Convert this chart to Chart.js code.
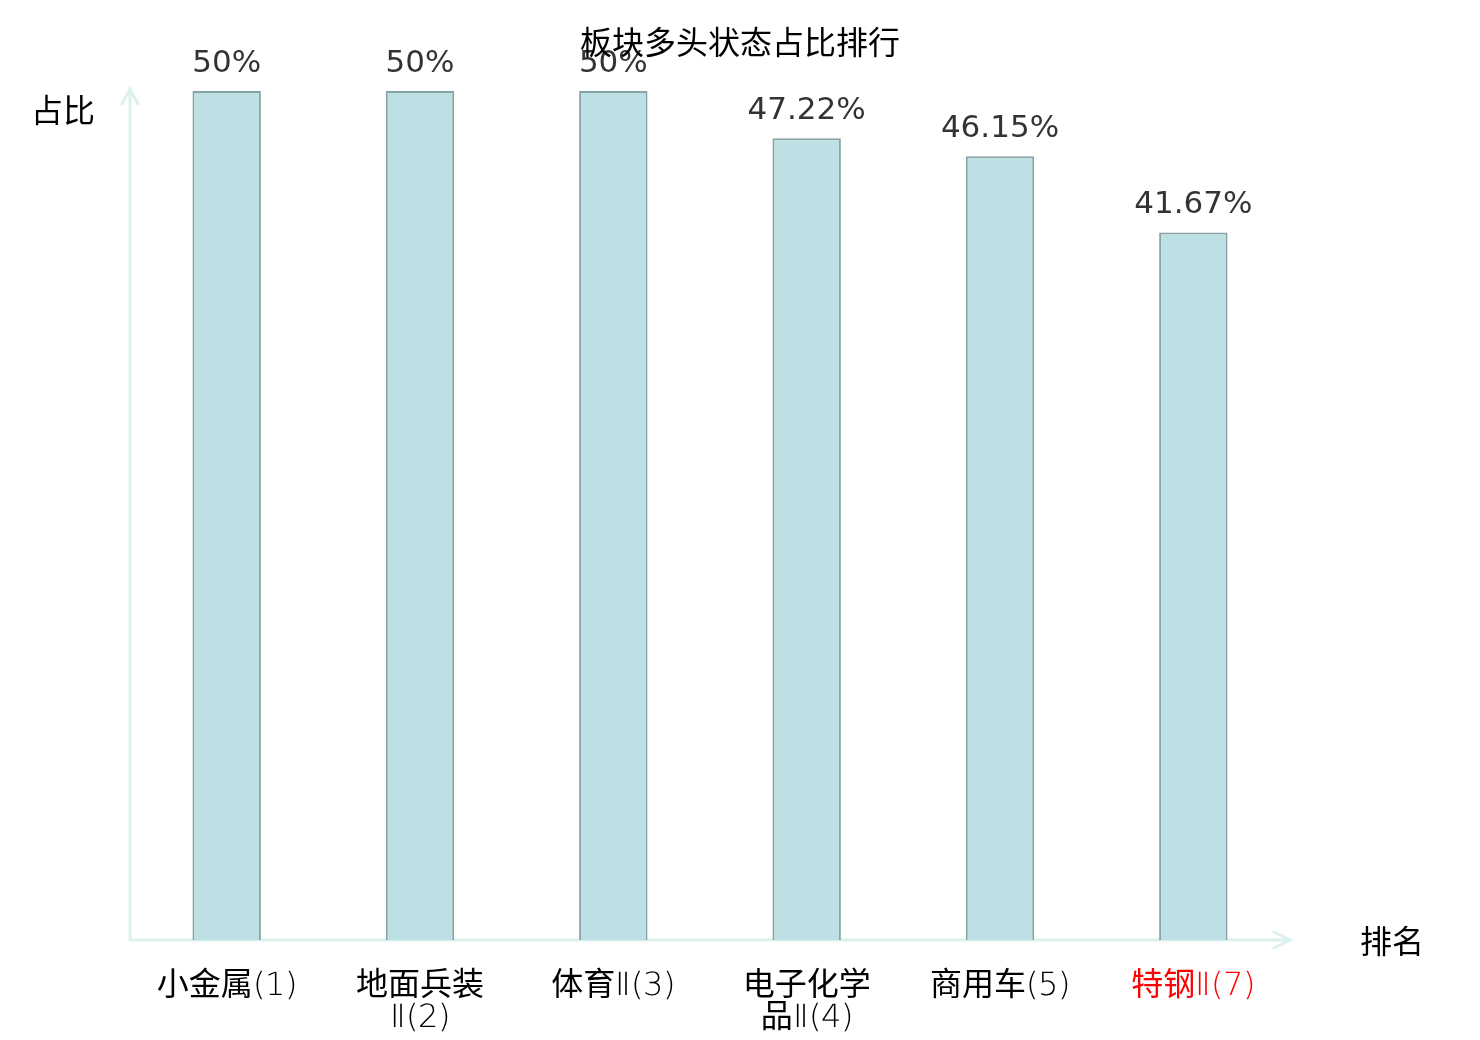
<!DOCTYPE html>
<html>
<head>
<meta charset="utf-8">
<script src="https://cdn.jsdelivr.net/npm/chart.js@4.4.0/dist/chart.umd.min.js"></script>
<style>
  @font-face {
    font-family: "LatinLight";
    src: local("DejaVu Sans ExtraLight"), local("DejaVuSans-ExtraLight");
    unicode-range: U+0000-00FF, U+2160-216F;
  }
  html, body { margin:0; padding:0; background:#fff; }
  #wrap { width:1480px; height:1040px; }
</style>
</head>
<body>
<div id="wrap"><canvas id="rankChart" width="1480" height="1040"></canvas></div>
<script>
// data
const categories = ["小金属(1)", ["地面兵装", "Ⅱ(2)"], "体育Ⅱ(3)", ["电子化学", "品Ⅱ(4)"], "商用车(5)", "特钢Ⅱ(7)"];
const shares = [50, 50, 50, 47.22, 46.15, 41.67];
const shareLabels = ["50%", "50%", "50%", "47.22%", "46.15%", "41.67%"];
const labelColors = ["#000", "#000", "#000", "#000", "#000", "#f00"];

const titleText = "板块多头状态占比排行";
const yName = "占比";
const xName = "排名";

const AXIS_COLOR = "#dcf1ee";
const CJK = '"Noto Sans CJK SC", "Noto Sans", sans-serif';

// draws title, arrows, axis names and value labels
const decorPlugin = {
  id: "decor",
  beforeDatasetsDraw(chart){
    const {ctx, chartArea:a} = chart;
    ctx.save();
    ctx.strokeStyle = AXIS_COLOR;
    ctx.lineWidth = 3;
    ctx.lineCap = "round";
    // y axis
    ctx.beginPath();
    ctx.moveTo(a.left, a.bottom);
    ctx.lineTo(a.left, a.top - 2);
    ctx.moveTo(a.left - 8, a.top + 13);
    ctx.lineTo(a.left, a.top - 2);
    ctx.lineTo(a.left + 8, a.top + 13);
    // x axis
    ctx.moveTo(a.left, a.bottom);
    ctx.lineTo(a.right, a.bottom);
    ctx.moveTo(a.right - 16, a.bottom - 8);
    ctx.lineTo(a.right, a.bottom);
    ctx.lineTo(a.right - 16, a.bottom + 8);
    ctx.stroke();
    ctx.restore();
  },
  afterDatasetsDraw(chart){
    const {ctx, chartArea:a} = chart;
    ctx.save();
    // value labels
    ctx.font = '31px "DejaVu Sans", sans-serif';
    ctx.fillStyle = "#333";
    ctx.textAlign = "center";
    ctx.textBaseline = "alphabetic";
    chart.getDatasetMeta(0).data.forEach((bar, i) => {
      ctx.fillText(shareLabels[i], bar.x, bar.y - 19);
    });
    // title
    ctx.fillStyle = "#000";
    ctx.font = "32px " + CJK;
    ctx.textBaseline = "middle";
    ctx.fillText(titleText, chart.width / 2, 42);
    // axis names
    ctx.fillText(yName, 63, 110);
    ctx.fillText(xName, 1392, a.bottom + 1);
    ctx.restore();
  }
};

function drawChart(){
  const ctx = document.getElementById("rankChart").getContext("2d");
  new Chart(ctx, {
    type: "bar",
    data: {
      labels: categories,
      datasets: [{
        data: shares,
        backgroundColor: "#bce0e3",
        borderColor: "#88a4a6",
        borderWidth: 2,
        categoryPercentage: 1,
        barPercentage: 0.354
      }]
    },
    options: {
      responsive: false,
      devicePixelRatio: 1,
      animation: false,
      layout: { padding: { top: 91, left: 130, right: 190, bottom: -18 } },
      plugins: { legend: { display: false }, tooltip: { enabled: false } },
      scales: {
        x: {
          grid: { display: false },
          border: { display: false },
          ticks: {
            autoSkip: false,
            maxRotation: 0,
            padding: 23,
            font: { family: '"LatinLight", ' + CJK, size: 32, lineHeight: 1.0 },
            color: c => labelColors[c.index]
          }
        },
        y: { display: false, min: 0, max: 50 }
      }
    },
    plugins: [decorPlugin]
  });
}

// wait for the local light face, then draw
document.fonts.load('32px "LatinLight"', "(1)Ⅱ").catch(()=>{}).then(drawChart);
</script>
</body>
</html>
